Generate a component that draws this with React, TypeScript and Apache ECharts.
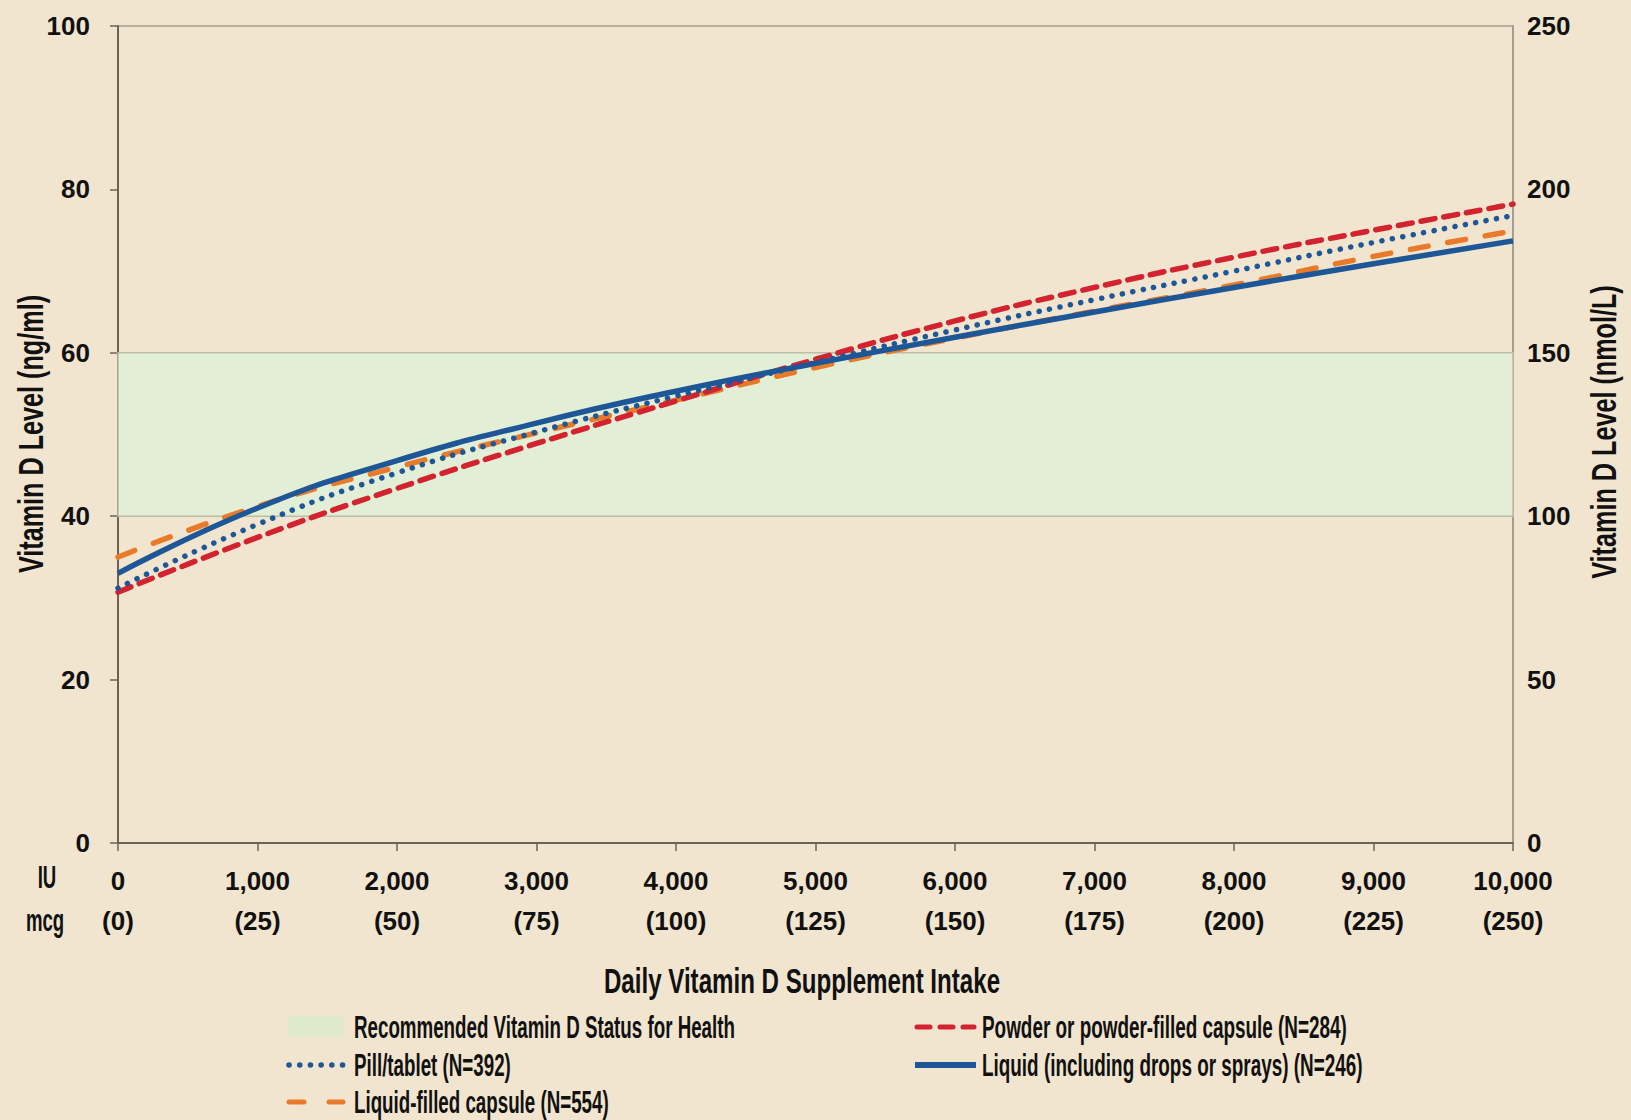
import React, { useEffect, useRef } from "react";
import * as echarts from "echarts";

const doses = [0, 1000, 2000, 3000, 4000, 5000, 6000, 7000, 8000, 9000, 10000];
const mcgLabels = ["(0)", "(25)", "(50)", "(75)", "(100)", "(125)", "(150)", "(175)", "(200)", "(225)", "(250)"];
const powder = [30.7, 37.4, 43.4, 48.9, 54.1, 59.2, 63.9, 68.0, 71.7, 75.0, 78.2];
const pill = [31.2, 39.0, 45.3, 50.3, 54.7, 58.8, 62.8, 66.5, 70.0, 73.5, 76.8];
const liquid = [33.0, 41.0, 46.8, 51.4, 55.3, 58.7, 61.9, 65.0, 68.0, 70.9, 73.7];
const capsule = [35.0, 41.2, 46.0, 50.2, 54.2, 58.2, 61.8, 65.1, 68.3, 71.8, 74.9];
const band = [40, 60];

const names = {
  band: "Recommended Vitamin D Status for Health",
  pill: "Pill/tablet (N=392)",
  capsule: "Liquid-filled capsule (N=554)",
  powder: "Powder or powder-filled capsule (N=284)",
  liquid: "Liquid (including drops or sprays) (N=246)",
};

const FONT = "'Liberation Sans', Arial, sans-serif";
const BLUE = "#1d5797";
const RED = "#d2232f";
const ORANGE = "#e97a2a";
const BANDC = "#e2eed6";
const INK = "#111";

function pairs(vals: number[]) {
  return doses.map((d, i) => [d, vals[i]]);
}

function ctext(text: string, x: number, y: number, size: number, sx: number, extra: any = {}, rotation = 0) {
  return {
    type: "text",
    x,
    y,
    scaleX: sx,
    rotation,
    silent: true,
    style: {
      text,
      font: `bold ${size}px ${FONT}`,
      fill: INK,
      textAlign: "left",
      verticalAlign: "middle",
      ...extra,
    },
  };
}

function legLine(x1: number, x2: number, y: number, color: string, dash: any, width = 5) {
  return {
    type: "line",
    silent: true,
    shape: { x1, y1: y, x2, y2: y },
    style: { stroke: color, lineWidth: width, lineDash: dash, lineCap: dash ? "round" : "butt" },
  };
}

export default function App() {
  const ref = useRef<HTMLDivElement>(null);
  useEffect(() => {
    document.body.style.margin = "0";
    const chart = echarts.init(ref.current!, null, { renderer: "svg" });
    const txt = { fontFamily: FONT, fontWeight: "bold" as const, color: INK };
    const rows = [1027, 1065, 1102];
    chart.setOption({
      animation: false,
      backgroundColor: "#f2e5cf",
      grid: {
        left: 118,
        right: 1631 - 1513,
        top: 26,
        bottom: 1120 - 843,
        show: true,
        borderColor: "#b9b09e",
        borderWidth: 2,
      },
      xAxis: {
        type: "value",
        min: 0,
        max: 10000,
        interval: 1000,
        axisLine: { show: true, lineStyle: { color: "#6b6454", width: 2 } },
        axisTick: { show: true, length: 8, lineStyle: { color: "#6b6454", width: 1.5 } },
        splitLine: { show: false },
        axisLabel: {
          ...txt,
          fontSize: 26,
          lineHeight: 40,
          margin: 18,
          formatter: (v: number) => {
            const i = doses.indexOf(v);
            return v.toLocaleString("en-US") + "\n" + (i >= 0 ? mcgLabels[i] : "");
          },
        },
      },
      yAxis: [
        {
          type: "value",
          min: 0,
          max: 100,
          interval: 20,
          position: "left",
          axisLine: { show: true, lineStyle: { color: "#6b6454", width: 2 } },
          axisTick: { show: true, length: 8, lineStyle: { color: "#6b6454", width: 1.5 } },
          splitLine: { show: false },
          axisLabel: { ...txt, fontSize: 26, margin: 28 },
        },
        {
          type: "value",
          min: 0,
          max: 250,
          interval: 50,
          position: "right",
          axisLine: { show: true, lineStyle: { color: "#a39d92", width: 2 } },
          axisTick: { show: false },
          splitLine: { show: false },
          axisLabel: { ...txt, fontSize: 26, margin: 14 },
        },
      ],
      graphic: [
        ctext("Vitamin D Level (ng/ml)", 30, 434, 35, 0.72, { textAlign: "center" }, Math.PI / 2),
        ctext("Vitamin D Level (nmol/L)", 1603, 432, 35, 0.72, { textAlign: "center" }, Math.PI / 2),
        ctext("Daily Vitamin D Supplement Intake", 802, 980, 36, 0.67, { textAlign: "center" }),
        ctext("IU", 47, 877, 31, 0.6, { textAlign: "center" }),
        ctext("mcg", 45, 920, 31, 0.6, { textAlign: "center" }),
        {
          type: "rect",
          silent: true,
          shape: { x: 288, y: 1016, width: 56, height: 21 },
          style: { fill: "#dfe9cc" },
        },
        legLine(289, 343, rows[1], BLUE, [0.1, 10.6], 5.5),
        legLine(289, 343, rows[2], ORANGE, [15, 25]),
        legLine(917, 974, rows[0], RED, [13, 10]),
        legLine(915, 976, rows[1], BLUE, null, 6),
        ctext(names.band, 354, rows[0], 31, 0.605),
        ctext(names.pill, 354, rows[1], 31, 0.605),
        ctext(names.capsule, 354, rows[2], 31, 0.605),
        ctext(names.powder, 982, rows[0], 31, 0.61),
        ctext(names.liquid, 982, rows[1], 31, 0.61),
      ],
      series: [
        {
          name: names.band,
          type: "line",
          data: [],
          color: BANDC,
          markArea: {
            silent: true,
            itemStyle: { color: BANDC, borderColor: "#bdbca4", borderWidth: 1.5 },
            data: [[{ yAxis: band[0] }, { yAxis: band[1] }]],
          },
        },
        {
          name: names.capsule,
          type: "line",
          data: pairs(capsule),
          smooth: true,
          showSymbol: false,
          color: ORANGE,
          lineStyle: { color: ORANGE, width: 5.5, type: [18, 20], cap: "round" },
          z: 3,
        },
        {
          name: names.powder,
          type: "line",
          data: pairs(powder),
          smooth: true,
          showSymbol: false,
          color: RED,
          lineStyle: { color: RED, width: 5.5, type: [14, 9], cap: "round" },
          z: 4,
        },
        {
          name: names.pill,
          type: "line",
          data: pairs(pill),
          smooth: true,
          showSymbol: false,
          color: BLUE,
          lineStyle: { color: BLUE, width: 5.5, type: [0.1, 10.5], cap: "round" },
          z: 5,
        },
        {
          name: names.liquid,
          type: "line",
          data: pairs(liquid),
          smooth: true,
          showSymbol: false,
          color: BLUE,
          lineStyle: { color: BLUE, width: 5.5 },
          z: 6,
        },
      ],
    });
    return () => chart.dispose();
  }, []);
  return <div ref={ref} style={{ width: 1631, height: 1120 }} />;
}
